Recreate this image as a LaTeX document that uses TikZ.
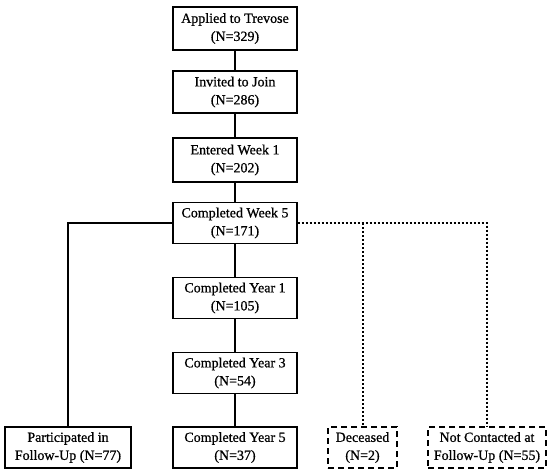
\documentclass[tikz,border=0pt]{standalone}
\usepackage{fontspec}
\setmainfont{Liberation Serif}
\newfontfamily\scanfont{Liberation Serif}[FakeBold=0.8]
\begin{document}
\begin{tikzpicture}[x=1pt,y=1pt]
\tikzset{
  box/.style={draw, line width=1.3pt, minimum height=41pt, align=center, inner sep=2pt,
    font=\scanfont\fontsize{14}{18}\selectfont},
  mainbox/.style={box, minimum width=124pt},
  dbox/.style={box, dash pattern=on 6pt off 4pt},
  link/.style={line width=1.3pt},
  dotlink/.style={line width=2pt, dash pattern=on 2pt off 2pt}
}
\useasboundingbox (0,0) rectangle (550,-475);
\node[mainbox, minimum height=43pt] (app) at (235,-28.5) {Applied to Trevose\\(N=329)};
\node[mainbox, minimum height=42pt] (inv) at (235,-92) {Invited to Join\\(N=286)};
\node[mainbox, minimum height=44pt] (ent) at (235,-160) {Entered Week 1\\(N=202)};
\node[mainbox] (w5) at (235,-223) {Completed Week 5\\(N=171)};
\node[mainbox] (y1) at (235,-298) {Completed Year 1\\(N=105)};
\node[mainbox] (y3) at (235,-373) {Completed Year 3\\(N=54)};
\node[mainbox] (y5) at (235,-447.5) {Completed Year 5\\(N=37)};
\node[box, minimum width=126pt] (part) at (68,-447.5) {Participated in\\Follow-Up (N=77)};
\node[dbox, minimum width=69pt] (dec) at (362.5,-447.5) {Deceased\\(N=2)};
\node[dbox, minimum width=118pt] (nc) at (487,-447.5) {Not Contacted at\\Follow-Up (N=55)};
\draw[link] (app) -- (inv);
\draw[link] (inv) -- (ent);
\draw[link] (ent) -- (w5);
\draw[link] (w5) -- (y1);
\draw[link] (y1) -- (y3);
\draw[link] (y3) -- (y5);
\draw[link] (w5.west) -| (part.north);
\draw[dotlink] (w5.east) -| (nc.north);
\coordinate (j) at (dec.north |- w5.east);
\draw[dotlink] (j) -- (dec.north);
\end{tikzpicture}
\end{document}
